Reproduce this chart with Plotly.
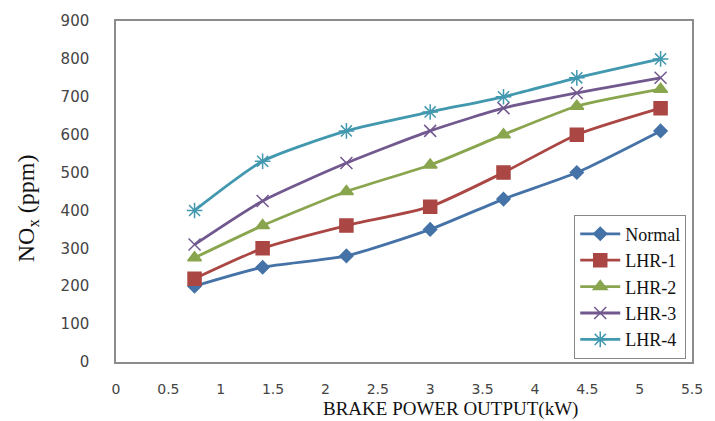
import plotly.graph_objects as go

power = [0.75, 1.4, 2.2, 3.0, 3.7, 4.4, 5.2]
normal = [200, 250, 280, 350, 430, 500, 610]
lhr1 = [220, 300, 360, 410, 500, 600, 670]
lhr2 = [275, 360, 450, 520, 600, 675, 720]
lhr3 = [310, 425, 525, 610, 670, 710, 750]
lhr4 = [400, 530, 610, 660, 700, 750, 800]

series_names = ["Normal", "LHR-1", "LHR-2", "LHR-3", "LHR-4"]
series_values = [normal, lhr1, lhr2, lhr3, lhr4]
colors = ["#4572A7", "#AA4643", "#89A54E", "#71588F", "#4198AF"]
symbols = ["diamond", "square", "triangle-up", "x-thin-open", "asterisk-open"]
sizes = [10, 13, 12, 12, 13]

x_ticks = [0, 0.5, 1, 1.5, 2, 2.5, 3, 3.5, 4, 4.5, 5, 5.5]
y_ticks = [0, 100, 200, 300, 400, 500, 600, 700, 800, 900]

fig = go.Figure()
for name, vals, c, s, sz in zip(series_names, series_values, colors, symbols, sizes):
    fig.add_trace(go.Scatter(
        x=power, y=vals, name=name, mode="lines+markers",
        line=dict(color=c, width=2.8, shape="spline", smoothing=0.6),
        marker=dict(symbol=s, size=sz, color=c, line=dict(color=c, width=1.5)),
    ))

W, H = 715, 421
L, R, T, B = 116, 16, 14, 59

fig.update_layout(
    width=W, height=H,
    margin=dict(l=L, r=R, t=T, b=B),
    paper_bgcolor="white", plot_bgcolor="white",
    showlegend=True,
    legend=dict(
        x=0.99, y=0.01, xanchor="right", yanchor="bottom",
        bgcolor="white", bordercolor="#888888", borderwidth=1,
        font=dict(family="Liberation Serif", size=18, color="#111111"),
        tracegroupgap=0, itemwidth=40,
    ),
    xaxis=dict(
        range=[0, 5.5], tickvals=x_ticks, ticktext=[f"{v:g}" for v in x_ticks],
        showgrid=False, zeroline=False, showline=True, linecolor="#8c8c8c",
        linewidth=1.5, mirror=True, ticks="", ticklabelstandoff=13,
        tickfont=dict(family="DejaVu Sans", size=14, color="#444444"),
    ),
    yaxis=dict(
        range=[0, 900], tickvals=y_ticks, ticktext=[str(v) for v in y_ticks],
        showgrid=False, zeroline=False, showline=True, linecolor="#8c8c8c",
        linewidth=1.5, mirror=True, ticks="", ticklabelstandoff=22,
        tickfont=dict(family="DejaVu Sans", size=15, color="#444444"),
    ),
    annotations=[
        dict(text="BRAKE POWER OUTPUT(kW)", xref="paper", yref="paper",
             x=(455 - L) / (W - L - R), y=-(410 - (H - B)) / (H - T - B),
             xanchor="center", yanchor="middle", showarrow=False,
             font=dict(family="Liberation Serif", size=19, color="#111111")),
        dict(text="NO<sub>x</sub> (ppm)", xref="paper", yref="paper",
             x=(27 - L) / (W - L - R), y=((H - B) - 205) / (H - T - B),
             xanchor="center", yanchor="middle", showarrow=False, textangle=-90,
             font=dict(family="Liberation Serif", size=24, color="#111111")),
    ],
)

fig.write_html("out.html")
